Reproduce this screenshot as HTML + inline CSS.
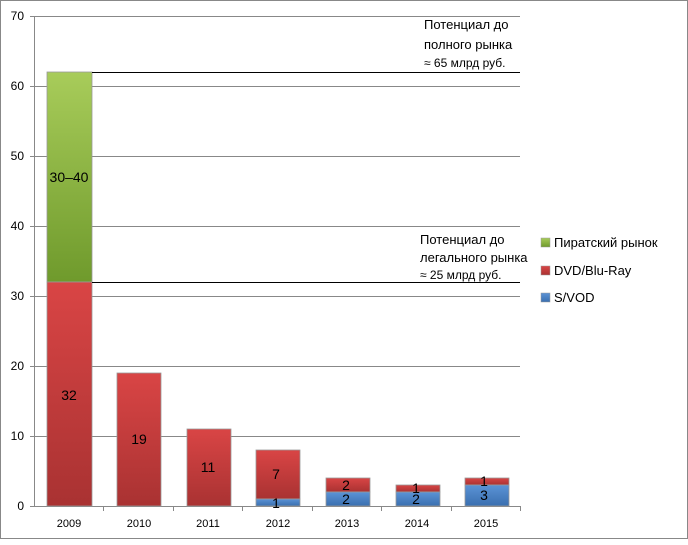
<!DOCTYPE html>
<html><head><meta charset="utf-8"><style>
body{margin:0;background:#fff}
svg text{font-family:"Liberation Sans","DejaVu Sans",sans-serif}
</style></head><body>
<svg width="688" height="540" xmlns="http://www.w3.org/2000/svg">
<defs>
<linearGradient id="r" x1="0" y1="0" x2="0" y2="1"><stop offset="0" stop-color="#d94545"/><stop offset="1" stop-color="#a93232"/></linearGradient>
<linearGradient id="g" x1="0" y1="0" x2="0" y2="1"><stop offset="0" stop-color="#a8cc5a"/><stop offset="1" stop-color="#6f9a2c"/></linearGradient>
<linearGradient id="b" x1="0" y1="0" x2="0" y2="1"><stop offset="0" stop-color="#5b93d6"/><stop offset="1" stop-color="#3a6faf"/></linearGradient>
</defs>
<rect x="0.5" y="0.5" width="687" height="538" fill="#fff" stroke="#888"/>
<g stroke="#888" stroke-width="1">
<line x1="34" y1="16.5" x2="520" y2="16.5"/>
<line x1="34" y1="86.5" x2="520" y2="86.5"/>
<line x1="34" y1="156.5" x2="520" y2="156.5"/>
<line x1="34" y1="226.5" x2="520" y2="226.5"/>
<line x1="34" y1="296.5" x2="520" y2="296.5"/>
<line x1="34" y1="366.5" x2="520" y2="366.5"/>
<line x1="34" y1="436.5" x2="520" y2="436.5"/>
<line x1="34.5" y1="16" x2="34.5" y2="506"/>
<line x1="30" y1="506.5" x2="520" y2="506.5"/>
<line x1="30" y1="16.5" x2="34" y2="16.5"/><line x1="30" y1="86.5" x2="34" y2="86.5"/><line x1="30" y1="156.5" x2="34" y2="156.5"/><line x1="30" y1="226.5" x2="34" y2="226.5"/><line x1="30" y1="296.5" x2="34" y2="296.5"/><line x1="30" y1="366.5" x2="34" y2="366.5"/><line x1="30" y1="436.5" x2="34" y2="436.5"/>
<line x1="103.5" y1="506" x2="103.5" y2="511"/><line x1="173.5" y1="506" x2="173.5" y2="511"/><line x1="242.5" y1="506" x2="242.5" y2="511"/><line x1="312.5" y1="506" x2="312.5" y2="511"/><line x1="381.5" y1="506" x2="381.5" y2="511"/><line x1="451.5" y1="506" x2="451.5" y2="511"/><line x1="520.5" y1="506" x2="520.5" y2="511"/>
</g>
<g font-size="12" fill="#000" text-anchor="end">
<text x="24" y="20">70</text><text x="24" y="90">60</text><text x="24" y="160">50</text><text x="24" y="230">40</text><text x="24" y="300">30</text><text x="24" y="370">20</text><text x="24" y="440">10</text><text x="24" y="510">0</text>
</g>
<g font-size="11" text-anchor="middle">
<text x="69" y="527">2009</text><text x="139" y="527">2010</text><text x="208" y="527">2011</text><text x="278" y="527">2012</text><text x="347" y="527">2013</text><text x="417" y="527">2014</text><text x="486" y="527">2015</text>
</g>
<g stroke="#999" stroke-width="0.8">
<rect x="47" y="72" width="45" height="210" fill="url(#g)"/>
<rect x="47" y="282" width="45" height="224" fill="url(#r)"/>
<rect x="117" y="373" width="44" height="133" fill="url(#r)"/>
<rect x="187" y="429" width="44" height="77" fill="url(#r)"/>
<rect x="256" y="450" width="44" height="49" fill="url(#r)"/>
<rect x="256" y="499" width="44" height="7" fill="url(#b)"/>
<rect x="326" y="478" width="44" height="14" fill="url(#r)"/>
<rect x="326" y="492" width="44" height="14" fill="url(#b)"/>
<rect x="396" y="485" width="44" height="7" fill="url(#r)"/>
<rect x="396" y="492" width="44" height="14" fill="url(#b)"/>
<rect x="465" y="478" width="44" height="7" fill="url(#r)"/>
<rect x="465" y="485" width="44" height="21" fill="url(#b)"/>
</g>
<g stroke="#000" stroke-width="1">
<line x1="92" y1="72.5" x2="520" y2="72.5"/>
<line x1="92" y1="282.5" x2="520" y2="282.5"/>
</g>
<g font-size="14" text-anchor="middle" fill="#000">
<text x="69" y="182">30–40</text>
<text x="69" y="400">32</text>
<text x="139" y="444">19</text>
<text x="208" y="472">11</text>
<text x="276" y="479">7</text>
<text x="276" y="508">1</text>
<text x="346" y="490">2</text>
<text x="346" y="504">2</text>
<text x="416" y="493">1</text>
<text x="416" y="504">2</text>
<text x="484" y="486">1</text>
<text x="484" y="500">3</text>
</g>
<g font-size="13" fill="#000">
<text x="424" y="29">Потенциал до</text>
<text x="424" y="49">полного рынка</text>
<text x="424" y="67" font-size="12">≈ 65 млрд руб.</text>
<text x="420" y="244">Потенциал до</text>
<text x="420" y="262">легального рынка</text>
<text x="420" y="279" font-size="12">≈ 25 млрд руб.</text>
</g>
<rect x="541" y="238" width="9" height="9" fill="url(#g)" stroke="#999" stroke-width="0.5"/>
<rect x="541" y="266" width="9" height="9" fill="url(#r)" stroke="#999" stroke-width="0.5"/>
<rect x="541" y="293" width="9" height="9" fill="url(#b)" stroke="#999" stroke-width="0.5"/>
<g font-size="13" fill="#000">
<text x="554" y="247">Пиратский рынок</text>
<text x="554" y="275">DVD/Blu-Ray</text>
<text x="554" y="302">S/VOD</text>
</g>
</svg>
</body></html>
